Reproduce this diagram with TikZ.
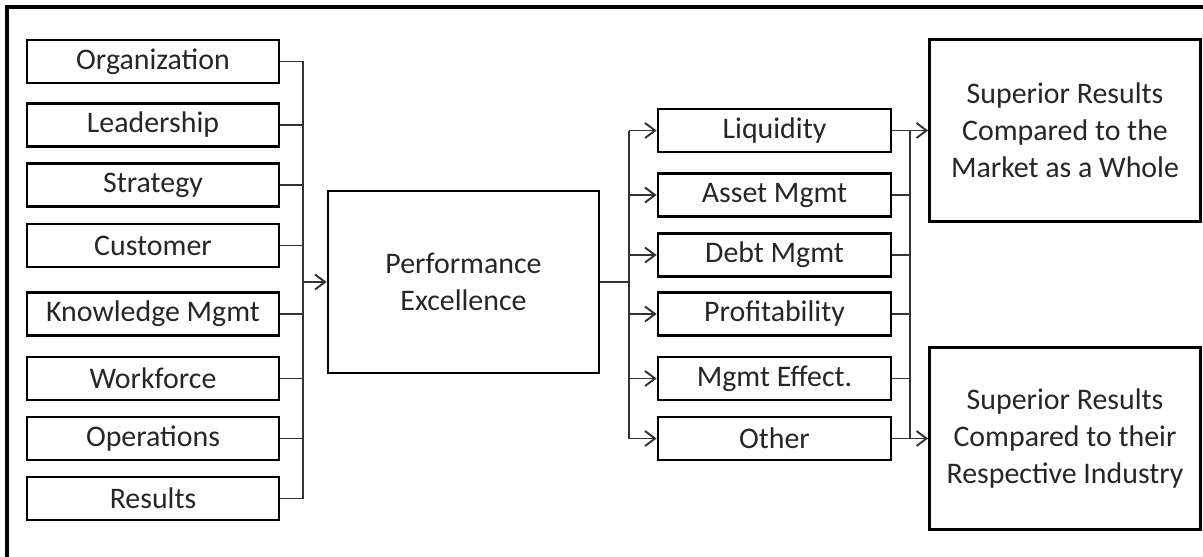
\documentclass[tikz,border=0pt]{standalone}
\usepackage{fontspec}
\setmainfont{Carlito}
\usetikzlibrary{arrows.meta}

\begin{document}
\begin{tikzpicture}[x=0.02cm,y=-0.02cm,>={Straight Barb[length=0.2cm,width=0.3cm]},
  box/.style={draw,line width=1.6pt,inner sep=0pt,align=center,
    font=\fontsize{17}{21}\selectfont,text=black!85},
  side/.style={box,minimum width=5.04cm,minimum height=0.86cm},
  item/.style={box,minimum width=4.66cm,minimum height=0.86cm},
  big/.style={box,minimum width=5.42cm,minimum height=3.64cm},
  link/.style={line width=1.1pt,black!80}]
\useasboundingbox (0,0) rectangle (1203,556);
\draw[line width=2pt] (7,580) -- (7,7) -- (1230,7);

% factors on the left
\node[side] (org) at (153,61.5) {Organization};
\node[side] (lead) at (153,125) {Leadership};
\node[side] (strat) at (153,185) {Strategy};
\node[side] (cust) at (153,245.5) {Customer};
\node[side] (know) at (153,314) {Knowledge Mgmt};
\node[side] (work) at (153,378.5) {Workforce};
\node[side] (oper) at (153,438.5) {Operations};
\node[side] (res) at (153,498.5) {Results};

\node[big] (perf) at (463.5,282) {Performance\\Excellence};

% ratios in the middle
\node[item] (liq) at (774.5,130.5) {Liquidity};
\node[item] (asset) at (774.5,195) {Asset Mgmt};
\node[item] (debt) at (774.5,255) {Debt Mgmt};
\node[item] (prof) at (774.5,314) {Profitability};
\node[item] (eff) at (774.5,378.5) {Mgmt Effect.};
\node[item] (other) at (774.5,438.5) {Other};

\node[big] (market) at (1065,130.5) {Superior Results\\Compared to the\\Market as a Whole};
\node[big] (industry) at (1065,438.5) {Superior Results\\Compared to their\\Respective Industry};

% left bus
\coordinate (lbus) at (303,282);
\draw[link] (org.east) -- (org.east -| lbus) -- (res.east -| lbus) -- (res.east);
\draw[link] (lead.east) -- (lead.east -| lbus);
\draw[link] (strat.east) -- (strat.east -| lbus);
\draw[link] (cust.east) -- (cust.east -| lbus);
\draw[link] (know.east) -- (know.east -| lbus);
\draw[link] (work.east) -- (work.east -| lbus);
\draw[link] (oper.east) -- (oper.east -| lbus);
\draw[link,->] (lbus) -- (perf.west);

% middle bus
\coordinate (mbus) at (629,282);
\draw[link] (perf.east) -- (mbus);
\draw[link] (liq.west -| mbus) -- (other.west -| mbus);
\draw[link,->] (liq.west -| mbus) -- (liq.west);
\draw[link,->] (asset.west -| mbus) -- (asset.west);
\draw[link,->] (debt.west -| mbus) -- (debt.west);
\draw[link,->] (prof.west -| mbus) -- (prof.west);
\draw[link,->] (eff.west -| mbus) -- (eff.west);
\draw[link,->] (other.west -| mbus) -- (other.west);

% right bus
\coordinate (rbus) at (910,282);
\draw[link] (liq.east) -- (liq.east -| rbus) -- (other.east -| rbus) -- (other.east);
\draw[link] (asset.east) -- (asset.east -| rbus);
\draw[link] (debt.east) -- (debt.east -| rbus);
\draw[link] (prof.east) -- (prof.east -| rbus);
\draw[link] (eff.east) -- (eff.east -| rbus);
\draw[link,->] (liq.east -| rbus) -- (market.west);
\draw[link,->] (other.east -| rbus) -- (industry.west);
\end{tikzpicture}
\end{document}
